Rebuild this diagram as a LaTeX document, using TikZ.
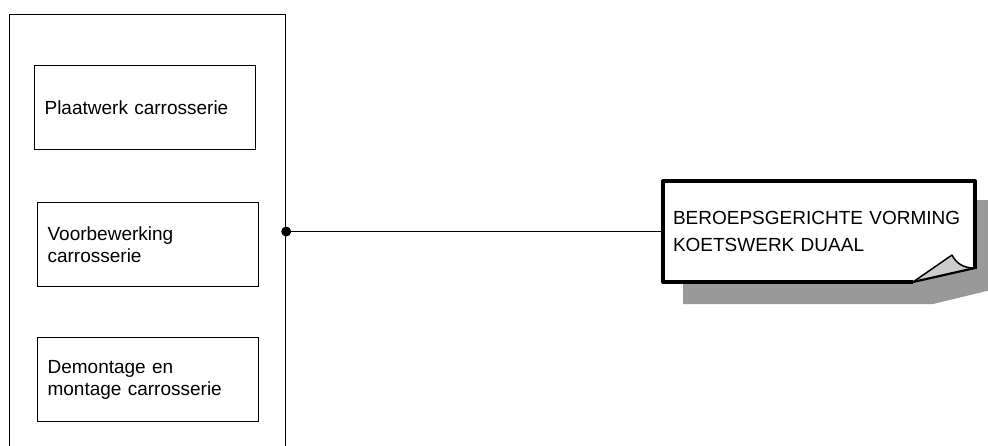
\documentclass[tikz,border=0pt]{standalone}
\usepackage{fontspec}
\setmainfont{Liberation Sans}
\begin{document}
\begin{tikzpicture}[x=1pt,y=-1pt,
  boxtxt/.style={font=\fontsize{19}{22}\selectfont},
  unitbox/.style={draw, line width=1.2pt, rectangle, minimum height=84pt, text width=201pt,
     inner xsep=10pt, inner ysep=0pt, align=left, anchor=north west, boxtxt},
  notetxt/.style={rectangle, minimum height=101pt, text width=292pt, inner xsep=10pt,
     inner ysep=0pt, align=left, font=\fontsize{19}{27}\selectfont}]
\clip (0,0) rectangle (988,445);
\fill[white] (0,0) rectangle (988,445);
% container
\node[draw, line width=1.2pt, rectangle, minimum width=276pt, minimum height=470pt,
  anchor=north west, inner sep=0pt] (outer) at (9,14) {};
\node[unitbox] (b1) at (34,65) {Plaatwerk carrosserie};
\node[unitbox] (b2) at (37,202) {Voorbewerking\\carrosserie};
\node[unitbox] (b3) at (37,337) {Demontage en\\montage carrosserie};
% note shadow
\fill[black!40] (683,200) -- (995,200) -- (995,289) -- (933,304) -- (683,304) -- cycle;
% note body
\fill[white] (663,181) -- (975,181) -- (975,268) -- (913,282) -- (663,282) -- cycle;
\fill[black!20] (913,282) -- (952,255) .. controls (956,263) and (963,268) .. (974,268) -- cycle;
\draw[line width=1.5pt, line join=round] (913,282) -- (952,255) .. controls (956,263) and (963,268) .. (974,268);
\draw[line width=2.2pt] (913,282) -- (975,268);
\draw[line width=4pt, line join=round] (913,282) -- (663,282) -- (663,181) -- (975,181) -- (975,269);
\node[notetxt] (note) at (819,231.5) {BEROEPSGERICHTE VORMING\\KOETSWERK DUAAL};
% connector
\coordinate (j) at (outer.east |- note.west);
\draw[line width=1pt] (j) -- (note.west);
\fill (j) circle (5pt);
\end{tikzpicture}
\end{document}
